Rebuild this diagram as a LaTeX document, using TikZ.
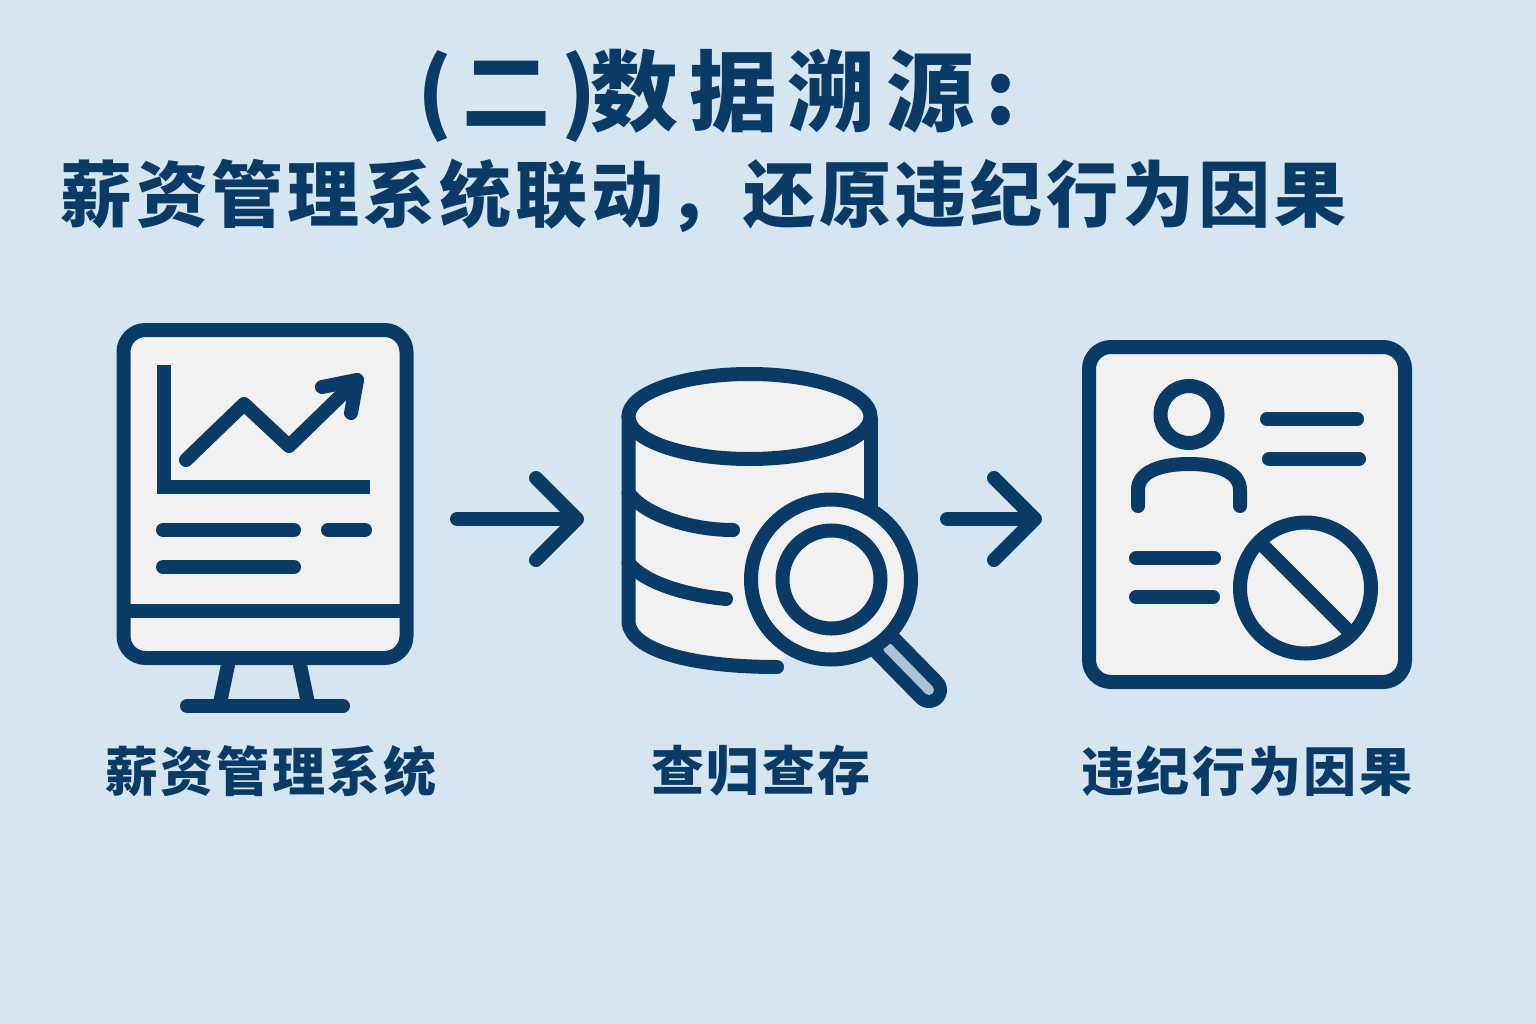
\documentclass[tikz,border=0pt]{standalone}
\usepackage{fontspec}
\usetikzlibrary{arrows.meta}
\setmainfont{Noto Sans CJK SC}
\definecolor{navy}{HTML}{0A3A66}
\definecolor{bgblue}{HTML}{D6E6F1}
\definecolor{paper}{HTML}{F1F1F2}
\definecolor{handle}{HTML}{A9C3DA}
\tikzset{
  ink/.style={draw=navy,line width=14pt,line cap=round,line join=round},
  butted/.style={draw=navy,line width=14pt,line cap=butt,line join=miter},
  panel/.style={draw=navy,fill=paper,line width=14pt,rounded corners=22pt},
  flow/.style={draw=navy,line width=14pt,line cap=round,-{Straight Barb[length=41pt,width=82pt,round]}},
  bigtitle/.style={anchor=west,text=navy,inner sep=0pt,font=\bfseries\fontsize{88}{88}\selectfont\addfontfeature{LetterSpace=12}},
  subtitle/.style={anchor=west,text=navy,inner sep=0pt,font=\bfseries\fontsize{72}{72}\selectfont\addfontfeature{LetterSpace=5.4}},
  caption/.style={anchor=center,text=navy,inner sep=0pt,font=\bfseries\fontsize{53}{53}\selectfont\addfontfeature{LetterSpace=5}},
}
\begin{document}
\begin{tikzpicture}[x=1pt,y=-1pt]
\useasboundingbox (0,0) rectangle (1536,1024);
\fill[bgblue] (0,0) rectangle (1536,1024);
% titles
\node[bigtitle] (title) at (417,96) {(二)\kern-6pt数据溯源\kern11pt:};
\node[subtitle] (subtitle) at (60,196) {薪资管理系统联动\char"FF0C 还原违纪行为因果};
% monitor
\draw[ink] (228,665) -- (220,703);
\draw[ink] (300,665) -- (308,703);
\draw[ink] (187,706) -- (343,706);
\draw[panel] (123.5,330) rectangle (406.5,658);
\draw[butted] (123.5,611) -- (406.5,611);
\draw[butted] (164,365) -- (164,487) -- (370,487);
\draw[ink] (186,460) -- (244,404) -- (289,446) -- (357,380);
\draw[ink] (322,387) -- (357,380) -- (351,413);
\draw[ink] (163,530) -- (294,530);
\draw[ink] (328,530) -- (365,530);
\draw[ink] (163,567) -- (294,567);
% database
\fill[paper] (628.5,416.5) -- (628.5,623) .. controls (632,650) and (690,667) .. (777,667) -- (870.5,560) -- (870.5,416.5) -- cycle;
\draw[ink,line cap=butt] (870.5,416.5) -- (870.5,510);
\draw[ink] (628.5,416.5) -- (628.5,623) .. controls (632,650) and (690,667) .. (777,667);
\draw[ink] (628.5,493) .. controls (645,515) and (690,530) .. (733,530);
\draw[ink] (628.5,563) .. controls (645,583) and (685,595) .. (726,599);
\draw[draw=navy,fill=paper,line width=14pt] (749.5,416.5) ellipse [x radius=121,y radius=42.5];
% magnifier
\draw[draw=navy,line width=36pt,line cap=round] (880,640) -- (929,690);
\draw[draw=handle,line width=10pt,line cap=round] (888,648) -- (929,690);
\draw[draw=navy,fill=paper,line width=14pt] (831,579.5) circle [radius=80];
\draw[draw=navy,line width=14pt] (831.5,579.5) circle [radius=49];
% card
\draw[panel] (1089,347) rectangle (1405,682);
\draw[draw=navy,line width=14pt] (1189,414.5) circle [radius=28.5];
\draw[ink] (1138,506) -- (1138,490) .. controls (1138,472) and (1160,464) .. (1189,464) .. controls (1218,464) and (1240,472) .. (1240,490) -- (1240,506);
\draw[ink] (1267,419) -- (1357,419);
\draw[ink] (1269,459) -- (1359,459);
\draw[ink] (1136,558) -- (1214,558);
\draw[ink] (1136,597) -- (1213,597);
\draw[draw=navy,line width=14pt] (1305.5,588) circle [radius=65.5];
\draw[butted] (1259,541.5) -- (1352,634.5);
% connectors
\coordinate (flowAstart) at (457,519);
\coordinate (flowAend) at (584,519);
\coordinate (flowBstart) at (947,519);
\coordinate (flowBend) at (1042,519);
\draw[flow] (flowAstart) -- (flowAend);
\draw[flow] (flowBstart) -- (flowBend);
% captions
\node[caption] (capA) at (271,771) {薪资管理系统};
\node[caption] (capB) at (761,771) {查归查存};
\node[caption] (capC) at (1247,771) {违纪行为因果};
\end{tikzpicture}
\end{document}
